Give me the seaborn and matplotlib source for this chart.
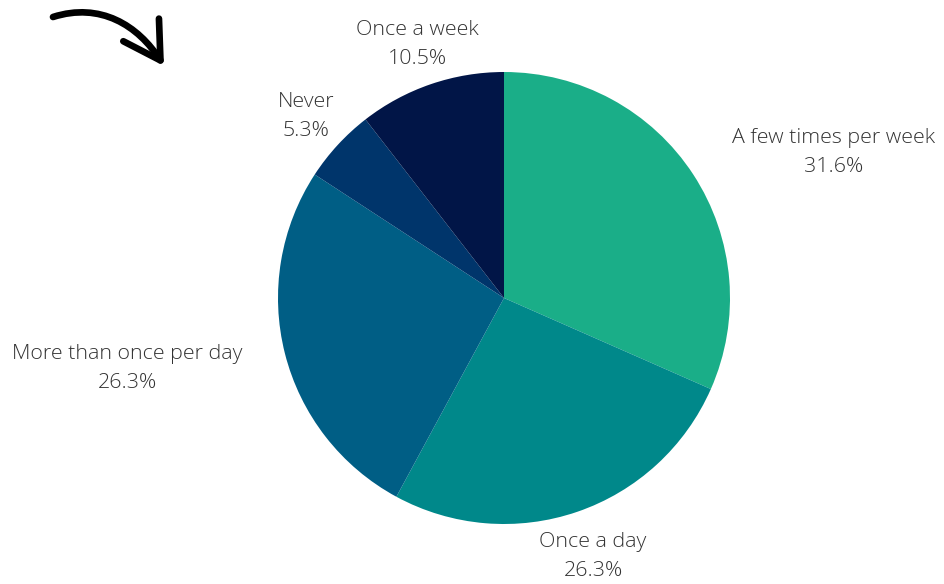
import matplotlib
matplotlib.use("Agg")
import matplotlib.pyplot as plt
import seaborn as sns
from matplotlib.patches import FancyArrowPatch
from matplotlib.path import Path

# Survey responses: how often people do the activity
categories = ["A few times per week", "Once a day", "More than once per day", "Never", "Once a week"]
shares = [31.6, 26.3, 26.3, 5.3, 10.5]
colors = ["#1aae88", "#00888a", "#005e85", "#00356b", "#011547"]

sns.set_theme(style="white")
plt.rcParams["font.family"] = ["Open Sans", "DejaVu Sans"]

W, H = 945, 584
fig = plt.figure(figsize=(W / 100, H / 100), dpi=100)
ax = fig.add_axes([0, 0, 1, 1])

cx, cy, r = 504, H - 298, 226
ax.pie(shares, colors=sns.color_palette(colors), startangle=90, counterclock=False,
       center=(cx, cy), radius=r, wedgeprops=dict(linewidth=0), frame=True)
ax.set_xlim(0, W)
ax.set_ylim(0, H)
ax.set_aspect("equal")
ax.axis("off")

# label anchor points (pixel positions, y measured from top)
label_pos = [(834, 152), (593, 557), (127, 368), (306, 116), (417, 44)]
for name, val, (lx, ly) in zip(categories, shares, label_pos):
    ax.text(lx, H - ly, f"{name}\n{val:.1f}%", ha="center", va="center",
            fontsize=15.4, fontweight="light", color="#333333", linespacing=1.6)

# hand-drawn style curved arrow with an open chevron head
verts = [(53, H - 17), (100, H - 2), (138, H - 25), (164, H - 66)]
codes = [Path.MOVETO, Path.CURVE4, Path.CURVE4, Path.CURVE4]
arrow = FancyArrowPatch(path=Path(verts, codes), arrowstyle="->,head_length=6.5,head_width=3.8",
                        color="black", linewidth=4.8, mutation_scale=4,
                        capstyle="round", joinstyle="round")
ax.add_patch(arrow)

fig.savefig("out.png", dpi=100, facecolor="white")
